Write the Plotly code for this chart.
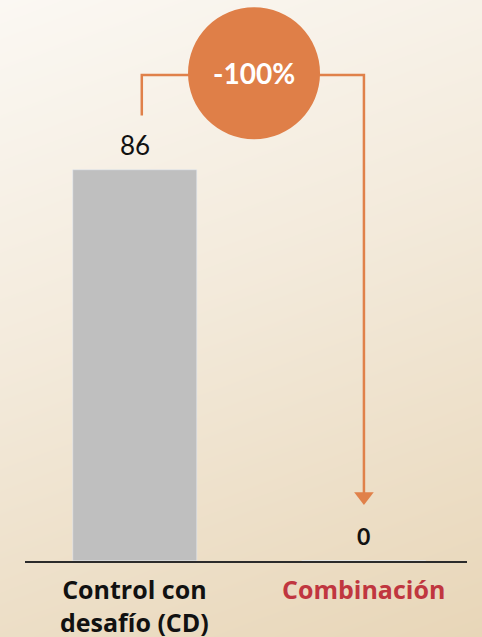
import numpy as np
import plotly.graph_objects as go

# Data
categories = ["Control con<br>desafío (CD)", "Combinación"]
values = [86, 0]
change_label = "-100%"
label_colors = ["#111111", "#C0363F"]

W, H = 482, 637
ACCENT = "#E0814A"
pos = list(range(len(categories)))

fig = go.Figure()

# Soft diagonal background wash on a full-page axis (x/y), drawn first
gx = np.linspace(0, 1, 60)
gy = np.linspace(0, 1, 60)
GX, GY = np.meshgrid(gx, gy)
t = np.clip(0.78 * (1 - GY) + 0.22 * GX, 0, 1)
fig.add_trace(go.Heatmap(
    x=gx, y=gy, z=t, zsmooth="best", showscale=False, hoverinfo="skip",
    colorscale=[[0, "#FBF8F3"], [0.45, "#F3EADB"], [1, "#E8D6B8"]],
    zmin=0, zmax=1, xaxis="x", yaxis="y",
))

# Bars on the chart axes (x2/y2)
fig.add_trace(go.Bar(
    x=pos, y=values, marker_color="#BFBFBF", width=0.54,
    hoverinfo="skip", xaxis="x2", yaxis="y2",
))

# Connector path from the first bar to the second
y_top = 106.9
fig.add_trace(go.Scatter(
    x=[pos[0] + 0.03, pos[0] + 0.03, pos[1], pos[1]],
    y=[98.0, y_top, y_top, 14.5],
    mode="lines", line=dict(color=ACCENT, width=2.5), hoverinfo="skip",
    xaxis="x2", yaxis="y2",
))
fig.add_trace(go.Scatter(
    x=[pos[1]], y=[14.2], mode="markers", hoverinfo="skip",
    marker=dict(symbol="triangle-down", size=17, color=ACCENT,
                line=dict(width=0)),
    xaxis="x2", yaxis="y2",
))

fig.update_traces(showlegend=False)

# Circle badge with the percentage change
fig.add_shape(
    type="circle", xref="x2", yref="y2", xsizemode="pixel", ysizemode="pixel",
    xanchor=0.52, yanchor=107.3, x0=-66, x1=66, y0=-66, y1=66,
    fillcolor="#DF7F48", line=dict(width=0),
)
fig.add_annotation(
    x=0.52, y=107.3, xref="x2", yref="y2", text=f"<b>{change_label}</b>",
    showarrow=False, font=dict(family="Lato", size=28, color="white"),
)

# Value labels
value_fonts = [dict(family="Lato", size=26, color="#111111"),
               dict(family="Lato", size=23, color="#111111")]
value_texts = [f"{values[0]}", f"<b>{values[1]}</b>"]
for i, v in enumerate(values):
    fig.add_annotation(
        x=pos[i], y=v, xref="x2", yref="y2", text=value_texts[i],
        showarrow=False, yanchor="bottom", yshift=7 if i == 0 else 9,
        font=value_fonts[i],
    )

# Category labels
for i, c in enumerate(categories):
    fig.add_annotation(
        x=pos[i], y=0, xref="x2", yref="y2", text=f"<b>{c}</b>",
        showarrow=False, yanchor="top", yshift=-9,
        font=dict(family="Open Sans", size=25, color=label_colors[i]),
    )

fig.update_layout(
    width=W, height=H,
    margin=dict(l=0, r=0, t=0, b=0),
    paper_bgcolor="#F3EADB", plot_bgcolor="rgba(0,0,0,0)",
    xaxis=dict(domain=[0, 1], range=[0, 1], visible=False, fixedrange=True),
    yaxis=dict(domain=[0, 1], range=[0, 1], visible=False, fixedrange=True),
    xaxis2=dict(domain=[25 / W, 467 / W], range=[-0.48, 1.45], anchor="y2",
                type="linear", showticklabels=False, showgrid=False,
                zeroline=False, showline=True, linecolor="#2B2B2B",
                linewidth=2, ticks=""),
    yaxis2=dict(domain=[(H - 561) / H, 1], range=[0, 123.4], anchor="x2",
                visible=False, showgrid=False, zeroline=False),
    bargap=0,
)

fig.write_html("out.html")
